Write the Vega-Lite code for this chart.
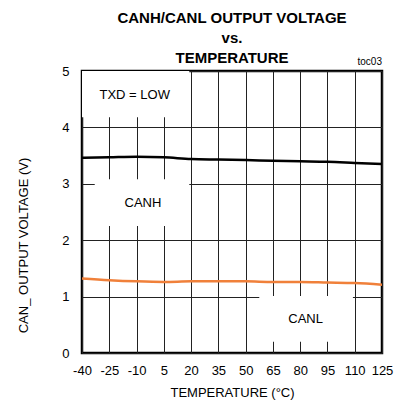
{
  "$schema": "https://vega.github.io/schema/vega-lite/v6.json",
  "width": 300,
  "height": 282,
  "autosize": "none",
  "padding": {"left": 82, "top": 71, "right": 19, "bottom": 53},
  "background": "white",
  "config": {
    "font": "Liberation Sans",
    "view": {"stroke": "black", "strokeWidth": 2.5},
    "axis": {
      "labelFont": "Liberation Sans",
      "titleFont": "Liberation Sans",
      "labelFontSize": 13,
      "titleFontSize": 13,
      "titleFontWeight": "normal",
      "labelColor": "black",
      "titleColor": "black",
      "domain": false,
      "ticks": false,
      "grid": true,
      "gridColor": "#222222",
      "gridWidth": 1,
      "gridOpacity": 1,
      "labelOverlap": false,
      "labelFlush": false,
      "labelBound": false
    }
  },
  "title": {
    "text": ["CANH/CANL OUTPUT VOLTAGE", "vs.", "TEMPERATURE"],
    "font": "Liberation Sans",
    "fontSize": 15,
    "fontWeight": "bold",
    "color": "black",
    "anchor": "middle",
    "frame": "group",
    "baseline": "bottom",
    "lineHeight": 20,
    "offset": 6,
    "dy": 30
  },
  "datasets": {
    "curves": [
      {"series": "CANH", "temp": -40, "v": 3.46},
      {"series": "CANH", "temp": -25, "v": 3.47},
      {"series": "CANH", "temp": -10, "v": 3.48},
      {"series": "CANH", "temp": 5, "v": 3.47},
      {"series": "CANH", "temp": 20, "v": 3.44},
      {"series": "CANH", "temp": 35, "v": 3.43},
      {"series": "CANH", "temp": 50, "v": 3.42},
      {"series": "CANH", "temp": 65, "v": 3.41},
      {"series": "CANH", "temp": 80, "v": 3.40},
      {"series": "CANH", "temp": 95, "v": 3.39},
      {"series": "CANH", "temp": 110, "v": 3.37},
      {"series": "CANH", "temp": 125, "v": 3.35},
      {"series": "CANL", "temp": -40, "v": 1.32},
      {"series": "CANL", "temp": -25, "v": 1.29},
      {"series": "CANL", "temp": -10, "v": 1.27},
      {"series": "CANL", "temp": 5, "v": 1.26},
      {"series": "CANL", "temp": 20, "v": 1.27},
      {"series": "CANL", "temp": 35, "v": 1.27},
      {"series": "CANL", "temp": 50, "v": 1.27},
      {"series": "CANL", "temp": 65, "v": 1.26},
      {"series": "CANL", "temp": 80, "v": 1.26},
      {"series": "CANL", "temp": 95, "v": 1.25},
      {"series": "CANL", "temp": 110, "v": 1.24},
      {"series": "CANL", "temp": 125, "v": 1.21}
    ],
    "boxes": [
      {"x1": -40, "x2": 19, "y1": 4.18, "y2": 5},
      {"x1": -33, "x2": 19, "y1": 2.25, "y2": 3.08},
      {"x1": 57.5, "x2": 109, "y1": 0.2, "y2": 1.01}
    ],
    "labels": [
      {"label": "TXD = LOW", "temp": -11, "v": 4.57},
      {"label": "CANH", "temp": -6.5, "v": 2.66},
      {"label": "CANL", "temp": 83, "v": 0.6}
    ],
    "note": [
      {"label": "toc03", "temp": 125, "v": 5}
    ]
  },
  "layer": [
    {
      "data": {"name": "boxes"},
      "mark": {"type": "rect", "color": "white"},
      "encoding": {
        "x": {
          "field": "x1", "type": "quantitative",
          "scale": {"domain": [-40, 125], "nice": false, "zero": false},
          "axis": {
            "values": [-40, -25, -10, 5, 20, 35, 50, 65, 80, 95, 110, 125],
            "tickCount": 20,
            "labelExpr": "'' + datum.value",
            "title": "TEMPERATURE (°C)",
            "labelPadding": 11,
            "titleX": 150,
            "titleY": 43,
            "titleBaseline": "alphabetic",
            "titleAlign": "center"
          }
        },
        "x2": {"field": "x2"},
        "y": {
          "field": "y1", "type": "quantitative",
          "scale": {"domain": [0, 5], "nice": false},
          "axis": {
            "values": [0, 1, 2, 3, 4, 5],
            "tickCount": 10,
            "labelExpr": "'' + datum.value",
            "title": "CAN_ OUTPUT VOLTAGE (V)",
            "labelPadding": 13,
            "titleX": -59,
            "titleY": 174,
            "titleAngle": 270,
            "titleAlign": "center",
            "titleBaseline": "middle"
          }
        },
        "y2": {"field": "y2"}
      }
    },
    {
      "data": {"name": "curves"},
      "mark": {"type": "line", "interpolate": "monotone", "strokeWidth": 2.5},
      "encoding": {
        "x": {"field": "temp", "type": "quantitative"},
        "y": {"field": "v", "type": "quantitative"},
        "detail": {"field": "series"},
        "color": {
          "field": "series", "type": "nominal",
          "scale": {"domain": ["CANH", "CANL"], "range": ["#000000", "#f0803a"]},
          "legend": null
        }
      }
    },
    {
      "data": {"name": "labels"},
      "mark": {"type": "text", "fontSize": 13, "align": "center", "baseline": "middle", "color": "black"},
      "encoding": {
        "x": {"field": "temp", "type": "quantitative"},
        "y": {"field": "v", "type": "quantitative"},
        "text": {"field": "label"}
      }
    },
    {
      "data": {"name": "note"},
      "mark": {"type": "text", "fontSize": 10, "align": "right", "baseline": "alphabetic", "dy": -6, "color": "black"},
      "encoding": {
        "x": {"field": "temp", "type": "quantitative"},
        "y": {"field": "v", "type": "quantitative"},
        "text": {"field": "label"}
      }
    }
  ]
}
